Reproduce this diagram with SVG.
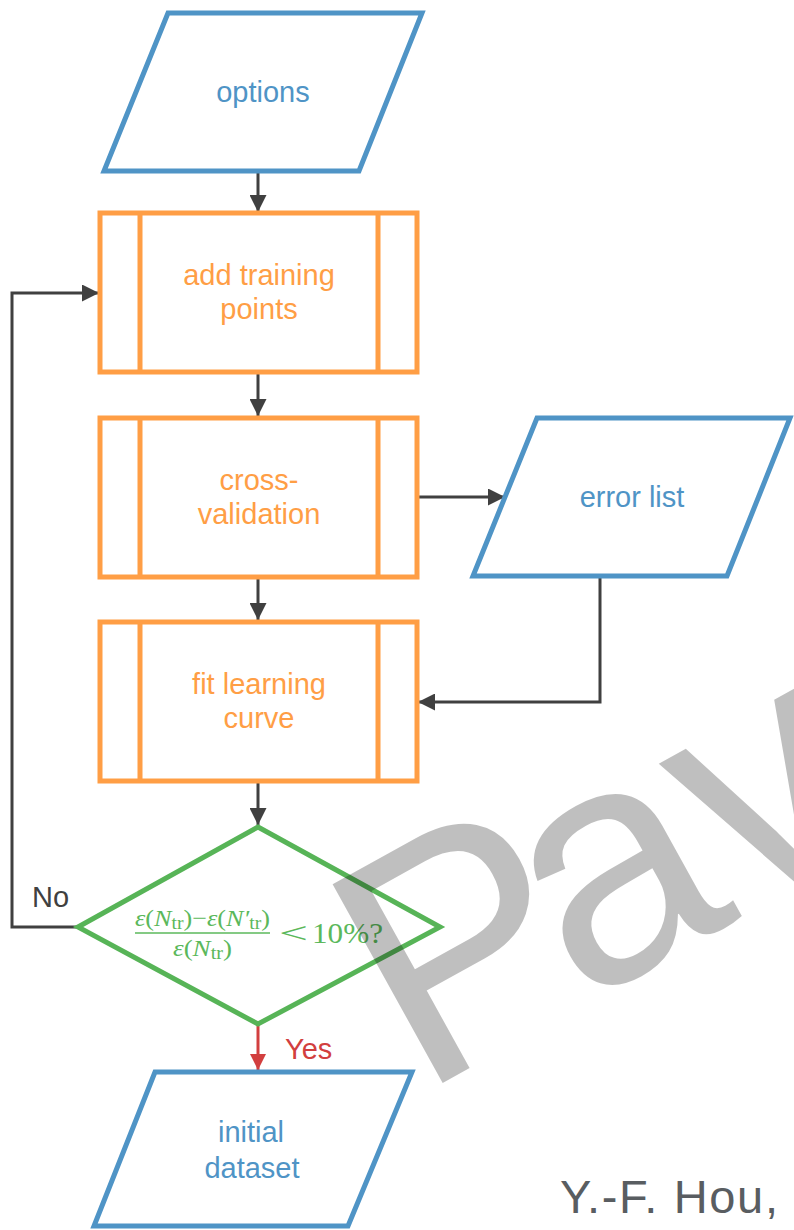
<svg xmlns="http://www.w3.org/2000/svg" width="794" height="1230" viewBox="0 0 794 1230">
  <defs>
    <marker id="arrow" viewBox="0 0 10 10" refX="10" refY="5" markerUnits="userSpaceOnUse" markerWidth="17" markerHeight="17" orient="auto">
      <path d="M0,0 L10,5 L0,10 z" fill="#404040"/>
    </marker>
    <marker id="arrow-red" viewBox="0 0 10 10" refX="10" refY="5" markerUnits="userSpaceOnUse" markerWidth="16" markerHeight="16" orient="auto">
      <path d="M0,0 L10,5 L0,10 z" fill="#d23f3f"/>
    </marker>
  </defs>
  <style>
    .io { fill: #ffffff; stroke: #4f94c6; stroke-width: 5; stroke-linejoin: miter; }
    .io-text { fill: #4f94c6; font-family: "Liberation Sans", Arial, sans-serif; font-size: 29px; text-anchor: middle; }
    .proc { fill: #ffffff; stroke: #ff9e45; stroke-width: 5; }
    .proc-line { stroke: #ff9e45; stroke-width: 5; }
    .proc-text { fill: #ff9e45; font-family: "Liberation Sans", Arial, sans-serif; font-size: 29px; text-anchor: middle; }
    .dec { fill: #ffffff; stroke: #57b457; stroke-width: 5; stroke-linejoin: miter; }
    .math { fill: #5bb85b; font-family: "Liberation Serif", "Times New Roman", serif; }
    .edge { fill: none; stroke: #404040; stroke-width: 3; }
    .edge-yes { fill: none; stroke: #d23f3f; stroke-width: 3; }
    .label { font-family: "Liberation Sans", Arial, sans-serif; font-size: 29px; }
  </style>

  <rect width="794" height="1230" fill="#ffffff"/>

  <!-- connectors -->
  <g id="connectors">
    <line class="edge" x1="258" y1="172" x2="258" y2="212" marker-end="url(#arrow)"/>
    <line class="edge" x1="258" y1="372" x2="258" y2="416" marker-end="url(#arrow)"/>
    <line class="edge" x1="258" y1="577" x2="258" y2="620" marker-end="url(#arrow)"/>
    <line class="edge" x1="258" y1="781" x2="258" y2="825" marker-end="url(#arrow)"/>
    <line class="edge" x1="418" y1="497" x2="505" y2="497" marker-end="url(#arrow)"/>
    <polyline class="edge" points="600,577 600,702 418,702" marker-end="url(#arrow)"/>
    <polyline class="edge" points="79,927 12,927 12,293 99,293" marker-end="url(#arrow)"/>
    <line class="edge-yes" x1="258" y1="1025" x2="258" y2="1070" marker-end="url(#arrow-red)"/>
    <text class="label" x="32" y="907" fill="#404040">No</text>
    <text class="label" x="285" y="1059" fill="#d23f3f">Yes</text>
  </g>

  <!-- options (input) -->
  <g id="options">
    <polygon class="io" points="168,13 422,13 359,171 104,171"/>
    <text class="io-text" x="263" y="102">options</text>
  </g>

  <!-- add training points (predefined process) -->
  <g id="add-training-points">
    <rect class="proc" x="100" y="213" width="317" height="159"/>
    <line class="proc-line" x1="140" y1="213" x2="140" y2="372"/>
    <line class="proc-line" x1="378" y1="213" x2="378" y2="372"/>
    <text class="proc-text" x="259" y="285">add training</text>
    <text class="proc-text" x="259" y="319">points</text>
  </g>

  <!-- cross-validation -->
  <g id="cross-validation">
    <rect class="proc" x="100" y="418" width="317" height="159"/>
    <line class="proc-line" x1="140" y1="418" x2="140" y2="577"/>
    <line class="proc-line" x1="378" y1="418" x2="378" y2="577"/>
    <text class="proc-text" x="259" y="490">cross-</text>
    <text class="proc-text" x="259" y="524">validation</text>
  </g>

  <!-- error list (output) -->
  <g id="error-list">
    <polygon class="io" points="537,418 790,418 727,576 473,576"/>
    <text class="io-text" x="632" y="507">error list</text>
  </g>

  <!-- fit learning curve -->
  <g id="fit-learning-curve">
    <rect class="proc" x="100" y="622" width="317" height="159"/>
    <line class="proc-line" x1="140" y1="622" x2="140" y2="781"/>
    <line class="proc-line" x1="378" y1="622" x2="378" y2="781"/>
    <text class="proc-text" x="259" y="694">fit learning</text>
    <text class="proc-text" x="259" y="728">curve</text>
  </g>

  <!-- convergence check -->
  <g id="convergence-check">
    <polygon class="dec" points="258,827 440,927 258,1024 78,927"/>
    <text class="math" x="135" y="926" font-size="24" textLength="135" lengthAdjust="spacingAndGlyphs"><tspan font-style="italic">ε</tspan>(<tspan font-style="italic">N</tspan><tspan font-size="18" dy="3">tr</tspan><tspan dy="-3">)−</tspan><tspan font-style="italic">ε</tspan>(<tspan font-style="italic">N′</tspan><tspan font-size="18" dy="3">tr</tspan><tspan dy="-3">)</tspan></text>
    <line x1="135" y1="933" x2="270" y2="933" stroke="#5bb85b" stroke-width="1.4"/>
    <text class="math" x="173" y="956" font-size="24" textLength="59" lengthAdjust="spacingAndGlyphs"><tspan font-style="italic">ε</tspan>(<tspan font-style="italic">N</tspan><tspan font-size="18" dy="3">tr</tspan><tspan dy="-3">)</tspan></text>
    <text class="math" x="279" y="943" font-size="30" textLength="29" lengthAdjust="spacingAndGlyphs">&lt;</text>
    <text class="math" x="312" y="943" font-size="30" textLength="71" lengthAdjust="spacingAndGlyphs">10%?</text>
  </g>

  <!-- initial dataset (output) -->
  <g id="initial-dataset">
    <polygon class="io" points="155,1072 412,1072 348,1226 94,1226"/>
    <text class="io-text" x="251" y="1142">initial</text>
    <text class="io-text" x="252" y="1178">dataset</text>
  </g>

  <!-- author line -->
  <text x="560" y="1213" fill="#595d61" font-family="Liberation Sans, Arial, sans-serif" font-size="47" textLength="218" lengthAdjust="spacing">Y.-F. Hou,</text>

  <!-- watermark -->
  <text x="419" y="1096" transform="rotate(-29 419 1096)" fill="#000000" fill-opacity="0.25" font-family="Liberation Sans, Arial, sans-serif" font-size="330">P<tspan dx="-34">av</tspan></text>
</svg>
